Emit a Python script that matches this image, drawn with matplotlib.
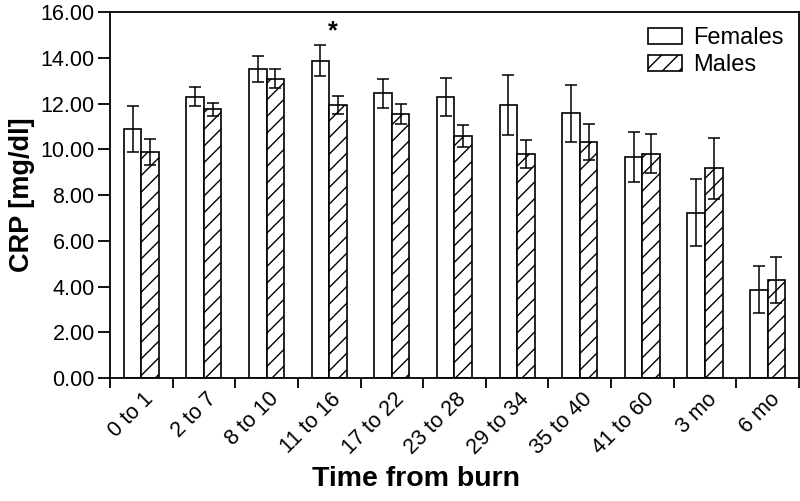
import numpy as np
import matplotlib
matplotlib.use('Agg')
import matplotlib.pyplot as plt
import matplotlib.transforms as mtransforms

plt.rcParams['font.family'] = ['Liberation Sans', 'DejaVu Sans']
plt.rcParams['hatch.linewidth'] = 1.0

# ── Data ──────────────────────────────────────────────────────────────────────
groups      = ['0 to 1', '2 to 7', '8 to 10', '11 to 16', '17 to 22', '23 to 28',
               '29 to 34', '35 to 40', '41 to 60', '3 mo', '6 mo']
females     = [10.87, 12.30, 13.51, 13.88, 12.45, 12.30, 11.94, 11.58, 9.65, 7.23, 3.86]
females_err = [1.00, 0.43, 0.58, 0.68, 0.64, 0.83, 1.32, 1.25, 1.10, 1.47, 1.02]
males       = [9.89, 11.75, 13.09, 11.94, 11.53, 10.58, 9.80, 10.31, 9.80, 9.16, 4.29]
males_err   = [0.58, 0.29, 0.43, 0.38, 0.43, 0.49, 0.60, 0.78, 0.85, 1.33, 1.00]
star_group  = 3
star_y      = 15.15

x  = np.arange(len(groups))
w  = 0.28

fig = plt.figure(figsize=(8, 5.01), dpi=100)
ax  = fig.add_axes([0.1375, 0.2455, 0.8612, 0.7305])

ekw = dict(ecolor='black', elinewidth=1.1, capsize=4.5, capthick=1.1)
ax.bar(x - w/2, females, w, yerr=females_err, color='white', edgecolor='black',
       linewidth=1.2, label='Females', error_kw=ekw, zorder=2)
ax.bar(x + w/2, males, w, yerr=males_err, color='white', edgecolor='black',
       linewidth=1.2, hatch='//', label='Males', error_kw=ekw, zorder=2)

ax.text(star_group + 0.05, star_y, '*', ha='center', va='center', fontsize=18,
        fontweight='bold')

ax.set_xlim(-0.5, len(groups) - 0.5)
ax.set_ylim(0, 16)
ax.set_yticks(np.arange(0, 16.1, 2))
ax.set_yticklabels([f'{v:.2f}' for v in np.arange(0, 16.1, 2)])

# boundary ticks as minor, labels at centres
ax.set_xticks(np.arange(-0.5, len(groups), 1.0), minor=True)
ax.set_xticks(x)
ax.set_xticklabels(groups, rotation=45, ha='right', va='center',
                   rotation_mode='anchor')
ax.tick_params(axis='x', which='major', length=0, labelsize=15.5, pad=13)
ax.tick_params(axis='x', which='minor', length=7, width=1.3, direction='out')
ax.tick_params(axis='y', length=9, width=1.3, direction='out', labelsize=15.5, pad=2)
offset = mtransforms.ScaledTranslation(9/100, 0, fig.dpi_scale_trans)
for lbl in ax.get_xticklabels():
    lbl.set_transform(lbl.get_transform() + offset)

for sp in ax.spines.values():
    sp.set_linewidth(1.3)

ax.set_ylabel('CRP [mg/dl]', fontsize=19.5, fontweight='bold', labelpad=4)
ax.set_xlabel('Time from burn', fontsize=20.5, fontweight='bold', labelpad=4)
ax.xaxis.set_label_coords(0.444, -0.24)

ax.legend(loc='upper right', bbox_to_anchor=(1.0, 1.0), frameon=False,
          fontsize=17, handlelength=1.45, handleheight=0.65, handletextpad=0.45,
          labelspacing=0.2, borderaxespad=0.25)

plt.savefig('out.png', dpi=100)
